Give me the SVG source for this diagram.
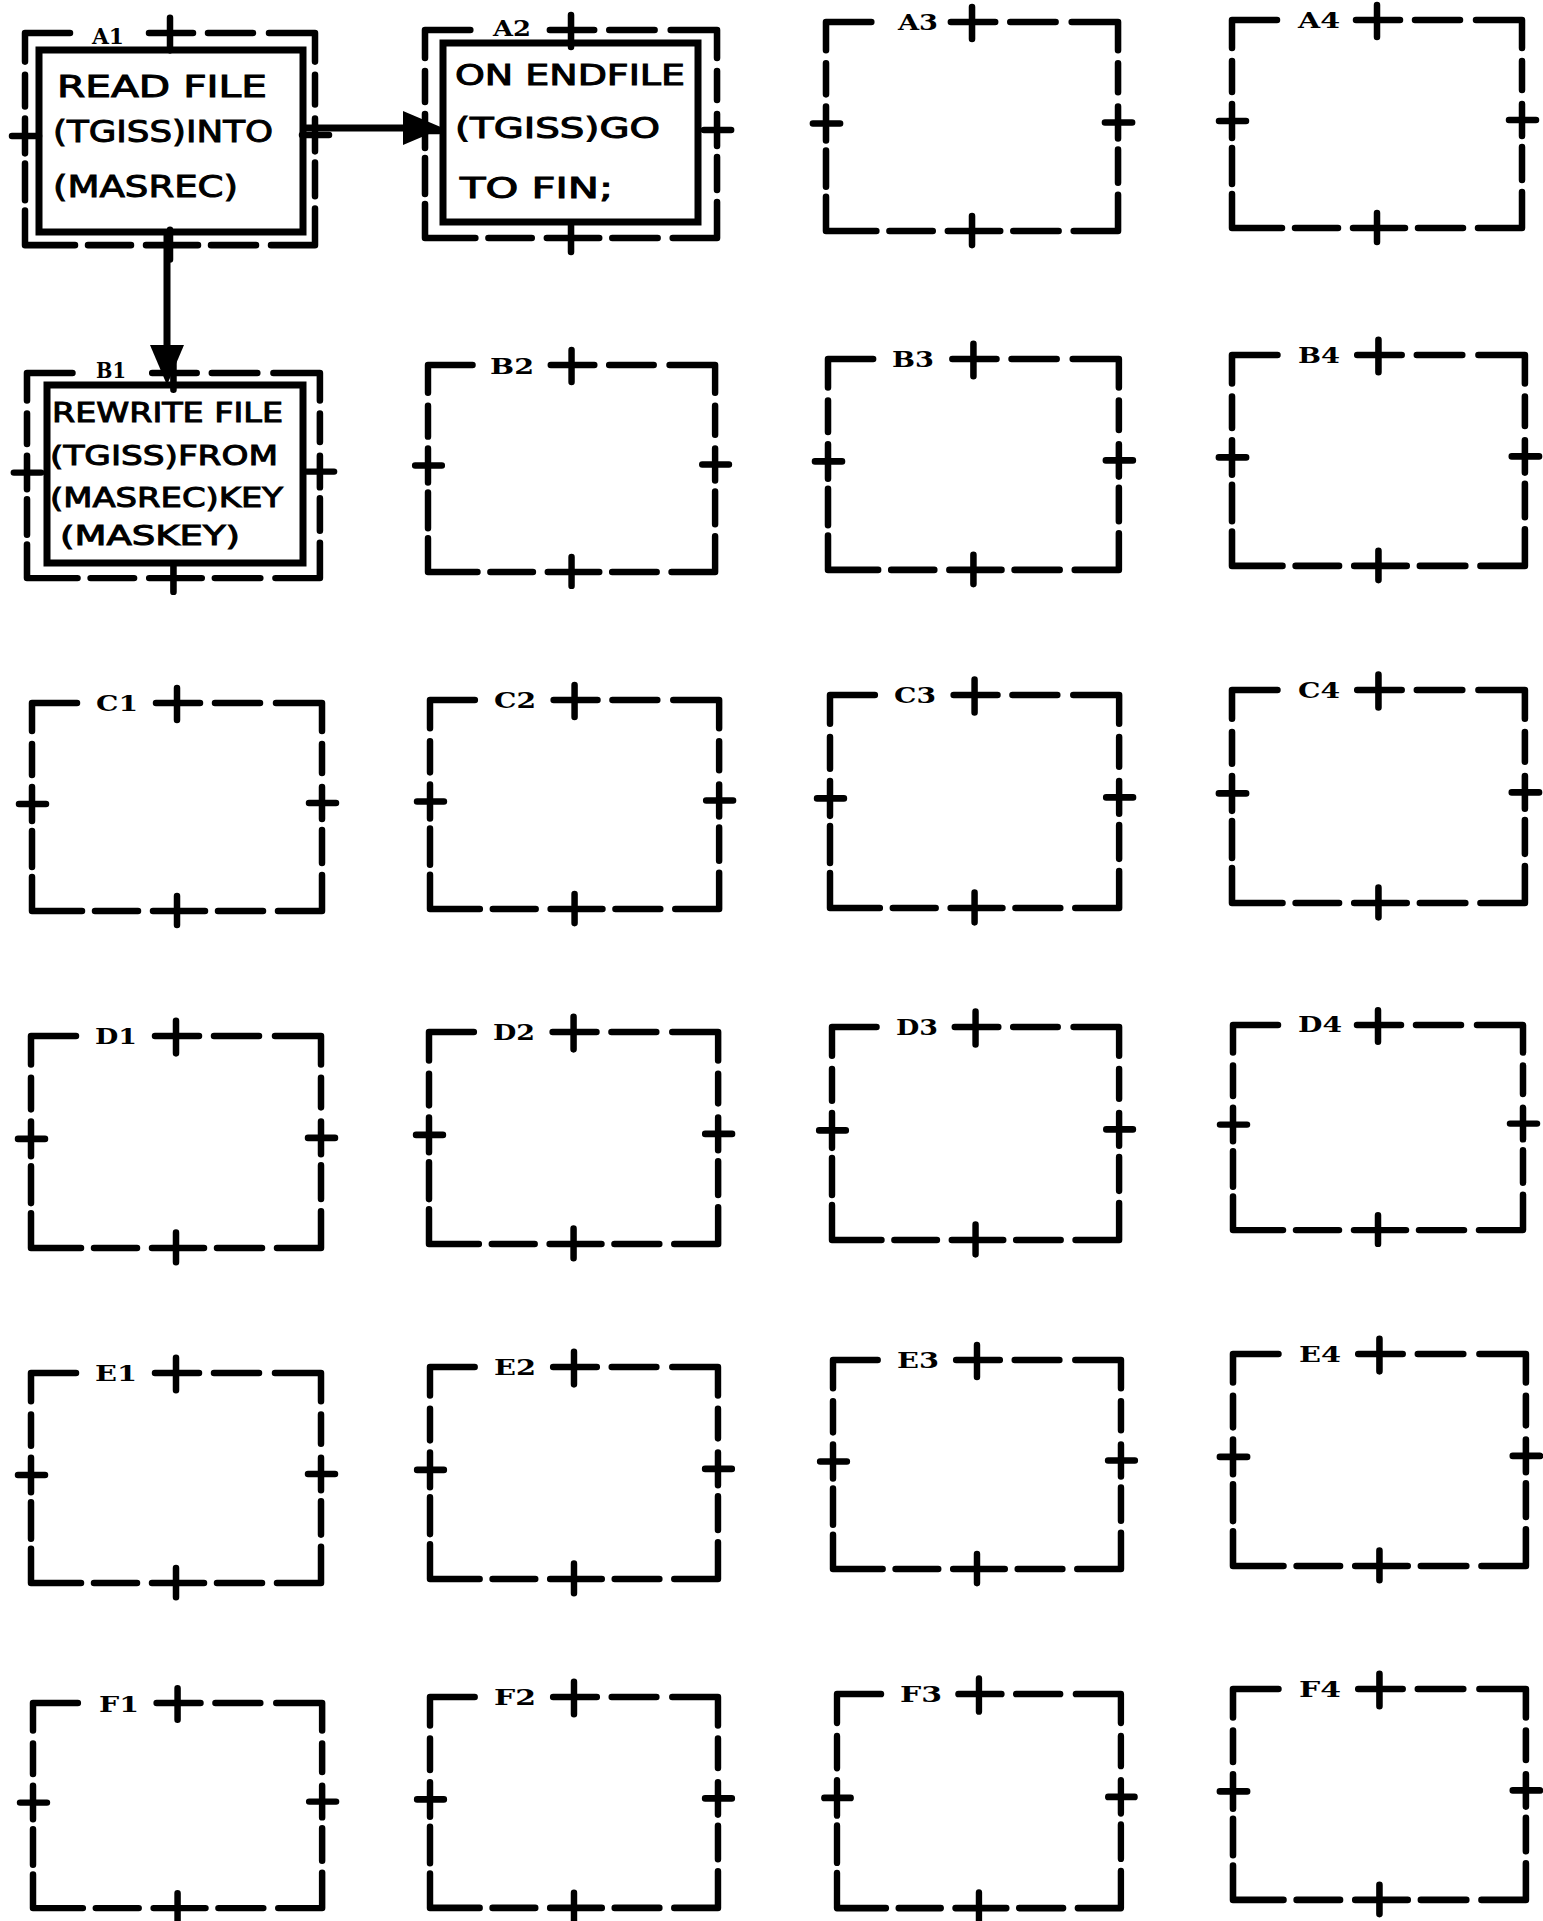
<svg xmlns="http://www.w3.org/2000/svg" xmlns:xlink="http://www.w3.org/1999/xlink" width="1543" height="1921" viewBox="0 0 1543 1921">
<style>
.frame{fill:none;stroke:#000;stroke-width:6.5;stroke-linecap:round;stroke-linejoin:round}
.inner{fill:none;stroke:#000;stroke-width:7}
.lbl{font-family:"DejaVu Serif","Liberation Serif",serif;font-weight:bold;font-size:23px;fill:#000}
.txt{font-family:"DejaVu Sans","Liberation Sans",sans-serif;fill:#000;stroke:#000;stroke-width:1}
.t1{font-size:30px}
.t2{font-size:28px}
.t3{font-size:27px}
.conn{stroke:#000;stroke-width:7;fill:none}
</style>
<defs>
<path id="fr" class="frame" d="M0,28V0H45 M124,0H168 M145,-15V17 M183,0H228 M244,0H290V28 M290,41V70 M290,84V116 M277,100H304 M290,127V160 M290,172V208H246 M231,208H186 M121,208H173 M145,193V222 M106,208H63 M50,208H0V174 M0,164V128 M0,118V84 M-13,101H14 M0,72V41"/>
<marker id="ah" viewBox="0 0 40 34" refX="30" refY="17" markerWidth="40" markerHeight="34" markerUnits="userSpaceOnUse" orient="auto"><path d="M0,0 L40,17 L0,34 Z" fill="#000"/></marker>
</defs>
<rect width="1543" height="1921" fill="#fff"/>

<g id="A1">
<use xlink:href="#fr" transform="translate(25,33) scale(1,1.02)"/>
<rect class="inner" x="39" y="50" width="264" height="182"/>
<text class="lbl" x="92" y="44" textLength="32" lengthAdjust="spacingAndGlyphs">A1</text>
<text class="txt t1" x="57" y="97" textLength="210" lengthAdjust="spacingAndGlyphs">READ FILE</text>
<text class="txt t1" x="53" y="142" textLength="220" lengthAdjust="spacingAndGlyphs">(TGISS)INTO</text>
<text class="txt t1" x="53" y="197" textLength="185" lengthAdjust="spacingAndGlyphs">(MASREC)</text>
</g>
<g id="A2">
<use xlink:href="#fr" transform="translate(425,30) scale(1.007,1)"/>
<rect class="inner" x="443" y="43" width="255" height="179"/>
<text class="lbl" x="493" y="36" textLength="38" lengthAdjust="spacingAndGlyphs">A2</text>
<text class="txt t2" x="455" y="85" textLength="230" lengthAdjust="spacingAndGlyphs">ON ENDFILE</text>
<text class="txt t2" x="455" y="138" textLength="205" lengthAdjust="spacingAndGlyphs">(TGISS)GO</text>
<text class="txt t2" x="460" y="198" textLength="153" lengthAdjust="spacingAndGlyphs">TO FIN;</text>
</g>
<g id="A3"><use xlink:href="#fr" transform="translate(826,22) scale(1.007,1.005)"/><text class="lbl" x="898" y="30" textLength="40" lengthAdjust="spacingAndGlyphs">A3</text></g>
<g id="A4"><use xlink:href="#fr" transform="translate(1232,20)"/><text class="lbl" x="1298" y="28" textLength="42" lengthAdjust="spacingAndGlyphs">A4</text></g>

<g id="B1">
<use xlink:href="#fr" transform="translate(27,373) scale(1.01,0.986)"/>
<rect class="inner" x="47" y="385" width="256" height="178"/>
<text class="lbl" x="96" y="378" textLength="30" lengthAdjust="spacingAndGlyphs">B1</text>
<text class="txt t3" x="52" y="422" textLength="231" lengthAdjust="spacingAndGlyphs">REWRITE FILE</text>
<text class="txt t3" x="50" y="465" textLength="228" lengthAdjust="spacingAndGlyphs">(TGISS)FROM</text>
<text class="txt t3" x="50" y="507" textLength="233" lengthAdjust="spacingAndGlyphs">(MASREC)KEY</text>
<text class="txt t3" x="60" y="545" textLength="180" lengthAdjust="spacingAndGlyphs">(MASKEY)</text>
</g>
<g id="B2"><use xlink:href="#fr" transform="translate(428,365) scale(0.99,0.995)"/><text class="lbl" x="490" y="374" textLength="44" lengthAdjust="spacingAndGlyphs">B2</text></g>
<g id="B3"><use xlink:href="#fr" transform="translate(828,359) scale(1.003,1.014)"/><text class="lbl" x="892" y="367" textLength="42" lengthAdjust="spacingAndGlyphs">B3</text></g>
<g id="B4"><use xlink:href="#fr" transform="translate(1232,355) scale(1.01,1.014)"/><text class="lbl" x="1298" y="363" textLength="42" lengthAdjust="spacingAndGlyphs">B4</text></g>

<g id="C1"><use xlink:href="#fr" transform="translate(32,703)"/><text class="lbl" x="96" y="711" textLength="42" lengthAdjust="spacingAndGlyphs">C1</text></g>
<g id="C2"><use xlink:href="#fr" transform="translate(430,700) scale(0.997,1.005)"/><text class="lbl" x="494" y="708" textLength="42" lengthAdjust="spacingAndGlyphs">C2</text></g>
<g id="C3"><use xlink:href="#fr" transform="translate(830,695) scale(0.997,1.024)"/><text class="lbl" x="894" y="703" textLength="42" lengthAdjust="spacingAndGlyphs">C3</text></g>
<g id="C4"><use xlink:href="#fr" transform="translate(1232,690) scale(1.01,1.024)"/><text class="lbl" x="1298" y="698" textLength="42" lengthAdjust="spacingAndGlyphs">C4</text></g>

<g id="D1"><use xlink:href="#fr" transform="translate(31,1036) scale(1,1.019)"/><text class="lbl" x="95" y="1044" textLength="42" lengthAdjust="spacingAndGlyphs">D1</text></g>
<g id="D2"><use xlink:href="#fr" transform="translate(429,1032) scale(0.997,1.019)"/><text class="lbl" x="493" y="1040" textLength="42" lengthAdjust="spacingAndGlyphs">D2</text></g>
<g id="D3"><use xlink:href="#fr" transform="translate(832,1027) scale(0.99,1.024)"/><text class="lbl" x="896" y="1035" textLength="42" lengthAdjust="spacingAndGlyphs">D3</text></g>
<g id="D4"><use xlink:href="#fr" transform="translate(1233,1025) scale(1,0.986)"/><text class="lbl" x="1298" y="1032" textLength="44" lengthAdjust="spacingAndGlyphs">D4</text></g>

<g id="E1"><use xlink:href="#fr" transform="translate(31,1373) scale(1,1.01)"/><text class="lbl" x="95" y="1381" textLength="42" lengthAdjust="spacingAndGlyphs">E1</text></g>
<g id="E2"><use xlink:href="#fr" transform="translate(430,1367) scale(0.993,1.019)"/><text class="lbl" x="494" y="1375" textLength="42" lengthAdjust="spacingAndGlyphs">E2</text></g>
<g id="E3"><use xlink:href="#fr" transform="translate(833,1360) scale(0.993,1.005)"/><text class="lbl" x="897" y="1368" textLength="42" lengthAdjust="spacingAndGlyphs">E3</text></g>
<g id="E4"><use xlink:href="#fr" transform="translate(1233,1354) scale(1.01,1.019)"/><text class="lbl" x="1299" y="1362" textLength="42" lengthAdjust="spacingAndGlyphs">E4</text></g>

<g id="F1"><use xlink:href="#fr" transform="translate(33,1703) scale(0.997,0.986)"/><text class="lbl" x="99" y="1712" textLength="40" lengthAdjust="spacingAndGlyphs">F1</text></g>
<g id="F2"><use xlink:href="#fr" transform="translate(430,1697) scale(0.993,1.014)"/><text class="lbl" x="494" y="1705" textLength="42" lengthAdjust="spacingAndGlyphs">F2</text></g>
<g id="F3"><use xlink:href="#fr" transform="translate(837,1694) scale(0.979,1.029)"/><text class="lbl" x="900" y="1702" textLength="42" lengthAdjust="spacingAndGlyphs">F3</text></g>
<g id="F4"><use xlink:href="#fr" transform="translate(1233,1689) scale(1.01,1.014)"/><text class="lbl" x="1299" y="1697" textLength="42" lengthAdjust="spacingAndGlyphs">F4</text></g>

<g id="connectors">
<line class="conn" x1="303" y1="128" x2="433" y2="128" marker-end="url(#ah)"/>
<line class="conn" x1="167" y1="232" x2="167" y2="375" marker-end="url(#ah)"/>
</g>
</svg>
